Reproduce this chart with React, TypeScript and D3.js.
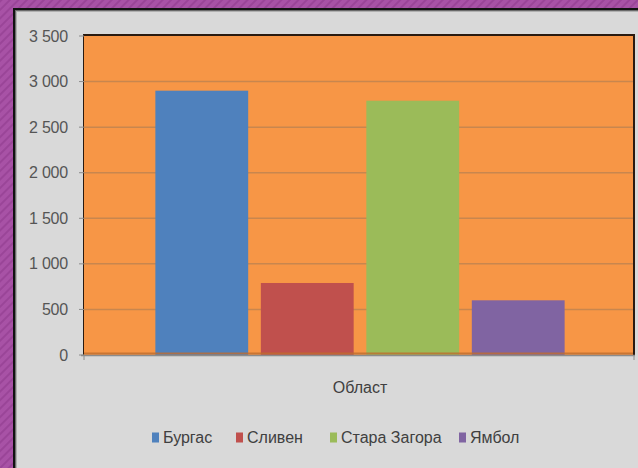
import React from "react";
import * as d3 from "d3";

const categories = ["Област"];
const seriesNames = ["Бургас", "Сливен", "Стара Загора", "Ямбол"];
const seriesValues = [2900, 790, 2790, 600];
const seriesColors = ["#4f81bd", "#c0504d", "#9bbb59", "#8064a2"];
const yTicks = [0, 500, 1000, 1500, 2000, 2500, 3000, 3500];
const yTickLabels = ["0", "500", "1 000", "1 500", "2 000", "2 500", "3 000", "3 500"];

const W = 638;
const H = 468;
const plot = { left: 84, top: 36, right: 633, bottom: 355 };
const FONT = "'Liberation Sans', Arial, sans-serif";

export default function App() {
  const y = d3.scaleLinear().domain([0, 3500]).range([plot.bottom, plot.top]);
  const x0 = d3.scaleBand().domain(categories).range([plot.left + 2, plot.right + 1]).paddingInner(0).paddingOuter(0.1695);
  const x1 = d3
    .scaleBand()
    .domain(seriesNames)
    .range([0, x0.bandwidth()])
    .paddingInner(0.12)
    .paddingOuter(0);

  const legendX = 152;
  const legendY = 437;
  const legendOffsets = [0, 84, 178, 307];

  return (
    <svg width={W} height={H} style={{ position: "absolute", left: 0, top: 0 }} fontFamily={FONT}>
      <defs>
        <pattern id="stripes" width="6" height="6" patternUnits="userSpaceOnUse" patternTransform="rotate(45)">
          <rect width="6" height="6" fill="#a852a6" />
          <rect width="2" height="6" fill="#9a4598" />
        </pattern>
      </defs>
      <rect width={W} height={H} fill="url(#stripes)" />
      {/* panel */}
      <rect x={13} y={8} width={W - 13} height={H - 8} fill="#111" />
      <rect x={15} y={10} width={W - 15} height={H - 10} fill="#6a6a6a" />
      <rect x={16} y={11} width={W - 16} height={H - 11} fill="#b0b0b0" />
      <rect x={17} y={12} width={W - 17} height={H - 12} fill="#d9d9d9" />

      {/* plot area */}
      <rect x={plot.left - 1} y={plot.top - 2} width={plot.right - plot.left + 3} height={plot.bottom - plot.top + 2} fill="#2a1a10" />
      <rect x={plot.left} y={plot.top} width={plot.right - plot.left} height={plot.bottom - plot.top} fill="#f79646" />

      {/* gridlines */}
      {yTicks.slice(1, -1).map((t) => (
        <line key={t} x1={plot.left} x2={plot.right} y1={y(t)} y2={y(t)} stroke="#c8864e" strokeWidth={1.5} />
      ))}

      {/* bars */}
      {categories.map((c) =>
        seriesNames.map((s, i) => (
          <rect
            key={s}
            x={(x0(c) as number) + (x1(s) as number)}
            y={y(seriesValues[i])}
            width={x1.bandwidth()}
            height={y(0) - y(seriesValues[i])}
            fill={seriesColors[i]}
          />
        ))
      )}
      {/* bottom shadow line */}
      <line x1={plot.left} x2={plot.right} y1={plot.bottom - 1.5} y2={plot.bottom - 1.5} stroke="#c06d2e" strokeWidth={2} opacity={0.8} />
      {/* x axis */}
      <line x1={plot.left - 3} x2={plot.right + 2} y1={plot.bottom + 0.5} y2={plot.bottom + 0.5} stroke="#8c8c8c" strokeWidth={1.5} />
      <line x1={plot.left} x2={plot.left} y1={plot.bottom} y2={plot.bottom + 5} stroke="#8c8c8c" />
      <line x1={plot.right + 1} x2={plot.right + 1} y1={plot.bottom} y2={plot.bottom + 5} stroke="#8c8c8c" />

      {/* y ticks */}
      {yTicks.map((t, i) => (
        <g key={t}>
          <line x1={plot.left - 5} x2={plot.left} y1={y(t)} y2={y(t)} stroke="#8c8c8c" />
          <text x={68} y={y(t)} dy="0.35em" textAnchor="end" fontSize={16} fill="#555" letterSpacing={-0.2}>
            {yTickLabels[i]}
          </text>
        </g>
      ))}

      {/* category label */}
      {categories.map((c) => (
        <text key={c} x={(x0(c) as number) + x0.bandwidth() / 2} y={387} dy="0.35em" textAnchor="middle" fontSize={16} fill="#404040">
          {c}
        </text>
      ))}

      {/* legend */}
      {seriesNames.map((s, i) => (
        <g key={s} transform={`translate(${legendX + legendOffsets[i]},${legendY})`}>
          <rect x={0} y={-4.5} width={7} height={10} fill={seriesColors[i]} />
          <text x={11} y={0} dy="0.35em" fontSize={16} fill="#404040">
            {s}
          </text>
        </g>
      ))}
    </svg>
  );
}
